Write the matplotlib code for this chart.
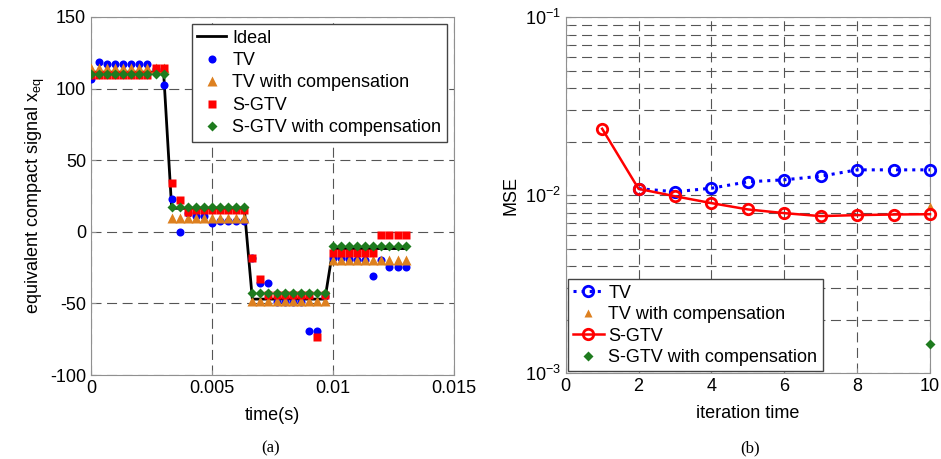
import numpy as np
import matplotlib
matplotlib.use('Agg')
import matplotlib.pyplot as plt

plt.rcParams['font.family'] = ['Liberation Sans', 'DejaVu Sans']
plt.rcParams['font.size'] = 13
plt.rcParams['axes.unicode_minus'] = False

# ---- (a) equivalent compact signal ----
t = np.arange(40) / 3000.0

ideal = [111.5] * 10 + [16.4] * 10 + [-47.0] * 10 + [-11.7] * 10

tv = [107, 118.5, 117.5, 117.5, 117.5, 117.5, 117.5, 117.5, 114, 102.3,
      22.9, 0, 13, 11.2, 11.2, 6, 7.2, 7.2, 7.2, 7.5,
      -18, -36, -36, -49, -49, -49, -49, -69.4, -69.4, -45,
      -18.5, -18.5, -19, -20, -20, -31, -20, -24.3, -24.3, -24.3]

tv_comp = [114.5] * 10 + [9.6] * 10 + [-48.4] * 10 + [-19.6] * 10

sgtv = [109.3] * 8 + [114.2, 114.2] + \
       [34.1, 22, 13.8, 15.4, 15.4, 15.4, 15.4, 15.4, 15.4, 15.4] + \
       [-18, -33, -44, -44, -44, -44, -44, -44, -73.8, -44] + \
       [-15] * 6 + [-2.3] * 4

sgtv_comp = [110.3] * 10 + [17.3] * 10 + [-43.0] * 10 + [-9.8] * 10

# ---- (b) MSE vs iteration ----
it_tv = [2, 3, 4, 5, 6, 7, 8, 9, 10]
mse_tv = [0.0109, 0.01047, 0.01096, 0.01191, 0.01222, 0.0128, 0.0139, 0.0139, 0.0139]
it_sgtv = [1, 2, 3, 4, 5, 6, 7, 8, 9, 10]
mse_sgtv = [0.02365, 0.01087, 0.00988, 0.00904, 0.00833, 0.00794, 0.00764, 0.00774, 0.0078, 0.00783]
it_comp = [10]
mse_tv_comp = [0.0087]
mse_sgtv_comp = [0.00146]

orange = '#DD8020'
green = '#1E7B1E'
gridcol = '#555555'
framecol = '#909090'
dash = (0, (9, 5))

fig = plt.figure(figsize=(9.41, 4.59), dpi=100)
ax1 = fig.add_axes([0.0967, 0.183, 0.3858, 0.78])
ax2 = fig.add_axes([0.6012, 0.1867, 0.3871, 0.7756])

ax1.plot(t, ideal, color='k', lw=2, label='Ideal', zorder=3)
ax1.plot(t, tv, 'o', color='#0000FF', ms=5.8, mec='none', label='TV', zorder=4)
ax1.plot(t, tv_comp, '^', color=orange, ms=6.5, mec='none', label='TV with compensation', zorder=5)
ax1.plot(t, sgtv, 's', color='#FF0000', ms=5.5, mec='none', label='S-GTV', zorder=6)
ax1.plot(t, sgtv_comp, 'D', color=green, ms=4.8, mec='none', label='S-GTV with compensation', zorder=7)

ax1.set_xlim(0, 0.015)
ax1.set_ylim(-100, 150)
ax1.set_xticks([0, 0.005, 0.01, 0.015])
ax1.set_xticklabels(['0', '0.005', '0.01', '0.015'])
ax1.set_yticks([-100, -50, 0, 50, 100, 150])
ax1.set_xlabel('time(s)', labelpad=7)
ax1.set_ylabel('equivalent compact signal x$\\mathregular{_{eq}}$', labelpad=2)
ax1.grid(True, ls=dash, color=gridcol, lw=0.8)
ax1.legend(loc='upper right', fancybox=False, edgecolor='#444444', framealpha=1,
           borderaxespad=0.4, borderpad=0.3, handletextpad=0.35, labelspacing=0.3,
           handlelength=1.6, numpoints=1)

ax2.semilogy(it_tv, mse_tv, ':', color='#0000FF', lw=2.2, marker='o', ms=7.5,
             mfc='none', mew=2, label='TV', zorder=4, clip_on=False)
ax2.semilogy(it_comp, mse_tv_comp, '^', color=orange, ms=6, mec='none',
             label='TV with compensation', zorder=3, clip_on=False)
ax2.semilogy(it_sgtv, mse_sgtv, '-', color='#FF0000', lw=1.8, marker='o', ms=7.5,
             mfc='none', mew=2, label='S-GTV', zorder=5, clip_on=False)
ax2.semilogy(it_comp, mse_sgtv_comp, 'D', color=green, ms=5.5, mec='none',
             label='S-GTV with compensation', zorder=5, clip_on=False)

ax2.set_xlim(0, 10)
ax2.set_ylim(1e-3, 1e-1)
ax2.set_xticks([0, 2, 4, 6, 8, 10])
ax2.set_xlabel('iteration time', labelpad=7)
ax2.set_ylabel('MSE', labelpad=4)
ax2.grid(True, which='major', ls=dash, color=gridcol, lw=0.8)
ax2.grid(True, which='minor', axis='y', ls=dash, color=gridcol, lw=0.8)
ax2.legend(loc='lower left', fancybox=False, edgecolor='#444444', framealpha=1,
           borderaxespad=0.1, borderpad=0.3, handletextpad=0.25, labelspacing=0.25,
           handlelength=1.7, numpoints=1)

for ax in (ax1, ax2):
    for s in ax.spines.values():
        s.set_color(framecol)
    ax.tick_params(which='both', direction='in', color=framecol, labelsize=13)
    ax.set_axisbelow(True)

fig.text(0.287, 0.015, '(a)', family='Liberation Serif', fontsize=12, ha='center')
fig.text(0.797, 0.015, '(b)', family='Liberation Serif', fontsize=12, ha='center')

fig.savefig('out.png', dpi=100)
